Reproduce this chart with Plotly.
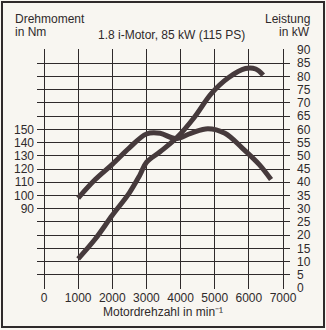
import plotly.graph_objects as go

# ---- data ----
rpm_torque = [1000, 1500, 2000, 2500, 3000, 3400, 3850, 4300, 4800, 5300, 5800, 6300, 6650]
torque_nm = [98, 112, 123.5, 136, 146.5, 147, 143, 147, 150.5, 147, 136, 123.5, 112]

rpm_power = [1000, 1500, 2000, 2500, 2800, 3000, 3400, 3900, 4400, 4900, 5400, 5900, 6200, 6420]
power_kw = [11, 18.5, 27.5, 36, 42.5, 47.5, 51.5, 57, 64.5, 73.5, 79.5, 83, 82.8, 80.5]

rpm_ticks = [0, 1000, 2000, 3000, 4000, 5000, 6000, 7000]
torque_grid = list(range(30, 211, 10))
torque_labels = [str(v) if 90 <= v <= 150 else "" for v in torque_grid]
power_ticks = list(range(0, 91, 5))

title_text = "1.8 i-Motor, 85 kW (115 PS)"
left_title = ["Drehmoment", "in Nm"]
right_title = ["Leistung", "in kW"]
x_title = "Motordrehzahl in min\u207b\u00b9"

# ---- layout geometry ----
W, H = 326, 330
L, R, T, B = 37, 36, 49, 41
PW, PH = W - L - R, H - T - B

def px(x):
    return (x - L) / PW

def py(y):
    return 1 - (y - T) / PH

INK = "#2f2a2b"
CURVE = "#463a3c"
BG = "#f8f6f1"
FONT = "Liberation Sans"

kw_range = [-0.38, 90.38]
nm_range = [30 + 2 * kw_range[0], 30 + 2 * kw_range[1]]

fig = go.Figure()
fig.add_trace(go.Scatter(x=rpm_torque, y=torque_nm, mode="lines", yaxis="y",
                         line=dict(color=CURVE, width=5, shape="spline", smoothing=1.0),
                         showlegend=False, hoverinfo="skip"))
fig.add_trace(go.Scatter(x=rpm_power, y=power_kw, mode="lines", yaxis="y2",
                         line=dict(color=CURVE, width=5, shape="spline", smoothing=1.0),
                         showlegend=False, hoverinfo="skip"))

fig.update_layout(
    width=W, height=H,
    margin=dict(l=L, r=R, t=T, b=B, pad=0),
    paper_bgcolor=BG, plot_bgcolor=BG,
    font=dict(family=FONT, size=12, color=INK),
    xaxis=dict(range=[-205, 7205], tickvals=rpm_ticks, ticktext=[str(v) for v in rpm_ticks],
               showgrid=True, gridcolor=INK, gridwidth=1.4, zeroline=False,
               showline=False, ticks="", tickfont=dict(size=12, color=INK)),
    yaxis=dict(range=nm_range, tickvals=torque_grid, ticktext=torque_labels,
               showgrid=True, gridcolor=INK, gridwidth=1.4, zeroline=False,
               showline=False, ticks="", ticklabelstandoff=2,
               tickfont=dict(size=12, color=INK)),
    yaxis2=dict(range=kw_range, overlaying="y", side="right", tickvals=power_ticks,
                ticktext=[str(v) for v in power_ticks], showgrid=False, zeroline=False,
                showline=False, ticks="", ticklabelstandoff=6,
                tickfont=dict(size=12, color=INK)),
)

ann = dict(xref="paper", yref="paper", showarrow=False, font=dict(family=FONT, size=12, color=INK))
fig.add_annotation(text=title_text, x=px(171), y=py(35), xanchor="center", yanchor="middle", **ann)
fig.add_annotation(text=left_title[0], x=px(13), y=py(18.5), xanchor="left", yanchor="middle", **ann)
fig.add_annotation(text=left_title[1], x=px(13), y=py(32.5), xanchor="left", yanchor="middle", **ann)
fig.add_annotation(text=right_title[0], x=px(312), y=py(18.5), xanchor="right", yanchor="middle", **ann)
fig.add_annotation(text=right_title[1], x=px(312), y=py(32.5), xanchor="right", yanchor="middle", **ann)
fig.add_annotation(text=x_title, x=px(163), y=py(312), xanchor="center", yanchor="middle", **ann)

fig.add_shape(type="rect", xref="paper", yref="paper",
              x0=px(2), x1=px(324), y0=py(327), y1=py(2),
              line=dict(color=INK, width=2), fillcolor="rgba(0,0,0,0)", layer="above")

fig.write_html("out.html")
